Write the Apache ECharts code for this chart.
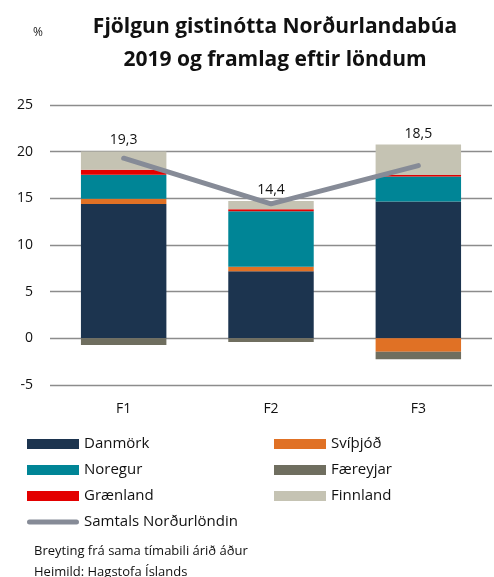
<!DOCTYPE html>
<html>
<head>
<meta charset="utf-8">
<script src="https://cdn.jsdelivr.net/npm/echarts@6/dist/echarts.min.js"></script>
<style>
  html, body { margin: 0; padding: 0; background: #fff; }
  #chart { width: 494px; height: 577px; }
</style>
</head>
<body>
<div id="chart"></div>
<script>
// data
var categories = ['F1', 'F2', 'F3'];
var danmork  = [14.4, 7.2, 14.65];
var svithjod = [0.55, 0.46, -1.43];
var noregur  = [2.57, 5.96, 2.68];
var faereyjar = [-0.71, -0.39, -0.82];
var graenland = [0.54, 0.21, 0.18];
var finnland = [1.96, 0.89, 3.25];
var samtals  = [19.3, 14.4, 18.5];
var yTicks = [-5, 0, 5, 10, 15, 20, 25];

var font = '"Open Sans", "Liberation Sans", sans-serif';

function barSeries (name, data, color) {
    return {
        name: name,
        type: 'bar',
        stack: 'lond',
        barWidth: '58%',
        itemStyle: { color: color },
        data: data
    };
}

var series = [
    barSeries('Danmörk', danmork, '#1c344f'),
    barSeries('Svíþjóð', svithjod, '#e07125'),
    barSeries('Noregur', noregur, '#008596'),
    barSeries('Færeyjar', faereyjar, '#6f6e5f'),
    barSeries('Grænland', graenland, '#e30000'),
    barSeries('Finnland', finnland, '#c5c3b3')
];
// totals shown above the top of each stack
series[5].label = {
    show: true,
    position: 'top',
    distance: 4,
    fontFamily: font,
    fontSize: 14,
    color: '#111',
    formatter: function (p) { return samtals[p.dataIndex].toFixed(1).replace('.', ','); }
};
series.push({
    name: 'Samtals Norðurlöndin',
    type: 'line',
    symbol: 'none',
    z: 5,
    lineStyle: { color: '#868b97', width: 5, cap: 'round' },
    itemStyle: { color: '#868b97' },
    data: samtals
});

// thick rounded line for the legend, padded with empty points so it keeps its thickness
var lineIcon = 'path://M2.5,2.5 L49.5,2.5 A2.5,2.5 0 0 1 49.5,7.5 L2.5,7.5 A2.5,2.5 0 0 1 2.5,2.5 Z M0,0 L0,0 Z M52,10 L52,10 Z';

var legendBase = {
    orient: 'vertical',
    top: 430,
    itemWidth: 52,
    itemHeight: 10,
    itemGap: 8,
    icon: 'rect',
    textStyle: { fontFamily: font, fontSize: 15, color: '#111', lineHeight: 18 }
};

var chart = echarts.init(document.getElementById('chart'));
chart.setOption({
    animation: false,
    title: [{
        text: 'Fjölgun gistinótta Norðurlandabúa\n2019 og framlag eftir löndum',
        left: 270,
        textAlign: 'center',
        top: 6,
        textStyle: { fontFamily: font, fontSize: 21, fontWeight: 'bold', color: '#111', lineHeight: 33 }
    }, {
        text: '%',
        left: 28,
        top: 22,
        textStyle: { fontFamily: font, fontSize: 12, fontWeight: 'normal', color: '#222' }
    }, {
        text: 'Breyting frá sama tímabili árið áður\nHeimild: Hagstofa Íslands',
        left: 29,
        top: 536,
        textStyle: { fontFamily: font, fontSize: 13, fontWeight: 'normal', color: '#111', lineHeight: 21 }
    }],
    legend: [
        Object.assign({}, legendBase, {
            left: 22,
            data: ['Danmörk', 'Noregur', 'Grænland', { name: 'Samtals Norðurlöndin', icon: lineIcon }]
        }),
        Object.assign({}, legendBase, {
            left: 269,
            data: ['Svíþjóð', 'Færeyjar', 'Finnland']
        })
    ],
    grid: { left: 50, right: 2, top: 105, bottom: 192, containLabel: false },
    xAxis: {
        type: 'category',
        data: categories,
        axisLine: { show: false },
        axisTick: { show: false },
        axisLabel: { fontFamily: font, fontSize: 14, color: '#111', margin: 17 }
    },
    yAxis: {
        type: 'value',
        min: yTicks[0],
        max: yTicks[yTicks.length - 1],
        interval: 5,
        axisLine: { show: false },
        axisTick: { show: false },
        axisLabel: { fontFamily: font, fontSize: 14, color: '#111', margin: 17 },
        splitLine: { lineStyle: { color: '#8c8c8c', width: 1.3 } }
    },
    series: series
});
</script>
</body>
</html>
